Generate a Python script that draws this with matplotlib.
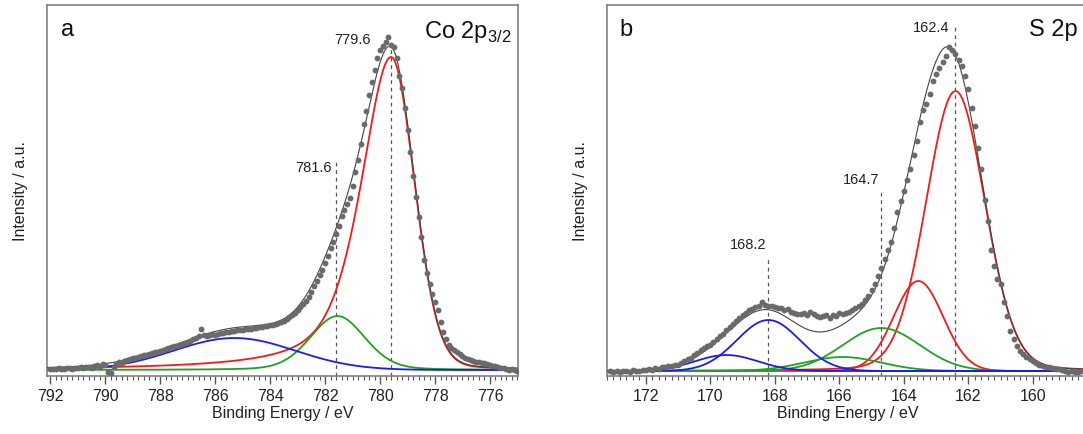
import numpy as np
import matplotlib
matplotlib.use("Agg")
import matplotlib.pyplot as plt
from matplotlib.ticker import MultipleLocator

plt.rcParams['font.family'] = ['Liberation Sans', 'DejaVu Sans']
plt.rcParams['mathtext.fontset'] = 'custom'
plt.rcParams['mathtext.rm'] = 'Liberation Sans'

# ---- panel a: Co 2p3/2, measured points every 0.1 eV (792.0 -> 775.0)
co_energy = np.round(np.arange(792.0, 774.95, -0.1), 1)
co_counts = [
    7, 7, 7, 8, 7, 7, 8, 8, 7, 8,
    8, 9, 8, 9, 9, 8, 10, 11, 9, 12,
    11, 4, 3, 9, 12, 14, 13, 15, 16, 17,
    18, 18, 19, 20, 21, 21, 22, 23, 24, 24,
    25, 26, 27, 28, 29, 30, 30, 31, 32, 33,
    34, 35, 37, 38, 40, 47, 41, 40, 41, 42,
    41, 42, 43, 43, 44, 44, 45, 45, 46, 46,
    46, 47, 47, 47, 48, 48, 49, 49, 50, 50,
    51, 51, 52, 53, 54, 55, 57, 59, 61, 63,
    66, 69, 72, 75, 79, 84, 90, 95, 101, 106,
    113, 120, 128, 134, 142, 150, 160, 166, 172, 178,
    190, 204, 216, 232, 252, 265, 281, 294, 306, 318,
    326, 330, 334, 339, 331, 329, 318, 300, 288, 268,
    246, 224, 200, 179, 159, 139, 116, 103, 92, 82,
    74, 66, 54, 44, 37, 31, 28, 26, 24, 22,
    20, 18, 17, 16, 15, 14, 14, 13, 13, 12,
    11, 10, 10, 9, 8, 8, 7, 6, 7, 6,
    5,
]
co_base = 6
# fitted components: red, green, blue
co_center = [779.6, 781.55, 785.3]
co_height = [313, 54, 32]
co_fwhm_hi = [2.6, 2.35, 5.2]   # high binding energy side
co_eta_hi = [0.6, 0.2, 0.0]
co_fwhm_lo = [2.0, 2.35, 5.2]   # low binding energy side
co_eta_lo = [0.1, 0.2, 0.0]
co_marks = [781.6, 779.6]

# ---- panel b: S 2p, measured points every 0.1 eV (173.1 -> 158.4)
s_energy = np.round(np.arange(173.1, 158.35, -0.1), 1)
s_counts = [
    5, 4, 5, 4, 5, 5, 4, 6, 5, 5,
    6, 6, 7, 6, 8, 7, 9, 9, 10, 10,
    11, 11, 13, 15, 17, 18, 21, 23, 26, 28,
    30, 31, 34, 37, 40, 42, 46, 49, 52, 55,
    58, 61, 63, 66, 67, 69, 70, 74, 71, 70,
    70, 69, 68, 68, 66, 67, 64, 63, 62, 62,
    63, 61, 64, 62, 60, 59, 60, 61, 58, 61,
    60, 63, 62, 63, 64, 66, 68, 70, 72, 76,
    80, 86, 92, 100, 108, 117, 126, 134, 148, 164,
    175, 185, 196, 207, 221, 235, 254, 266, 272, 282,
    295, 302, 308, 314, 320, 329, 326, 322, 316, 310,
    300, 287, 268, 250, 228, 207, 176, 155, 126, 110,
    97, 92, 74, 60, 45, 37, 30, 25, 22, 19,
    17, 15, 13, 11, 10, 9, 9, 8, 7, 7,
    6, 5, 4, 5, 4, 4, 5, 4,
]
s_base = 5
# fitted components: red x2, green x2, blue x2
s_center = [162.4, 163.55, 164.7, 165.9, 168.2, 169.5]
s_height = [280, 90, 43, 14, 51, 16]
s_fwhm = [2.15, 1.8, 2.8, 2.8, 2.3, 2.3]
s_eta = [0.1, 0.0, 0.0, 0.0, 0.0, 0.0]
s_marks = [168.2, 164.7, 162.4]

colors_a = ['#ee1c1c', '#22a022', '#1c1cf0']
colors_b = ['#ee1c1c', '#ee1c1c', '#22a022', '#22a022', '#1c1cf0', '#1c1cf0']


def peak(x, c, h, f_hi, eta_hi, f_lo, eta_lo):
    # pseudo-Voigt, different shape on each side of the centre
    d = x - c
    f = np.where(d > 0, f_hi, f_lo)
    eta = np.where(d > 0, eta_hi, eta_lo)
    g = np.exp(-4 * np.log(2) * d ** 2 / f ** 2)
    l = 1 / (1 + 4 * d ** 2 / f ** 2)
    return h * (eta * l + (1 - eta) * g)


def style_axes(ax, xlim):
    ax.set_xlim(*xlim)
    ax.set_ylim(0, 371)
    ax.set_yticks([])
    ax.xaxis.set_major_locator(MultipleLocator(2))
    ax.xaxis.set_minor_locator(MultipleLocator(0.2))
    ax.tick_params(axis='x', which='major', direction='out', length=6, width=1,
                   color='#555555', labelsize=11.5, labelcolor='#222222', pad=3)
    ax.tick_params(axis='x', which='minor', direction='out', length=3, width=0.8,
                   color='#555555')
    for s in ax.spines.values():
        s.set_color('#808080')
        s.set_linewidth(1.2)
    ax.set_xlabel("Binding Energy / eV", fontsize=11.5, color='#222222', labelpad=2)
    ax.set_ylabel("Intensity / a.u.", fontsize=11.5, color='#222222', labelpad=14)


fig = plt.figure(figsize=(10.83, 4.34), dpi=100)
ax1 = fig.add_axes([0.0434, 0.1336, 0.4349, 0.8548])
ax2 = fig.add_axes([0.5605, 0.1336, 0.4445, 0.8548])

# panel a
xa = np.linspace(792.2, 774.9, 800)
total = np.full_like(xa, co_base, dtype=float)
for i in range(len(co_center)):
    comp = peak(xa, co_center[i], co_height[i], co_fwhm_hi[i], co_eta_hi[i],
                co_fwhm_lo[i], co_eta_lo[i])
    total += comp
    ax1.plot(xa, comp + co_base, color=colors_a[i], lw=1.3, zorder=2)
ax1.plot(xa, total, color='#444444', lw=0.8, zorder=3)
ax1.plot(co_energy, co_counts, 'o', color='#6a6a6a', ms=4.2, mew=0, zorder=4)
ax1.vlines(co_marks[0], 0, 214, colors='#555555', linestyles=(0, (3, 3)), lw=0.9, zorder=1)
ax1.vlines(co_marks[1], 0, 330, colors='#555555', linestyles=(0, (3, 3)), lw=0.9, zorder=1)
ax1.text(co_marks[0] + 0.15, 208, "781.6", ha='right', va='center', fontsize=10.5, color='#222222')
ax1.text(co_marks[1] + 0.75, 336, "779.6", ha='right', va='center', fontsize=10.5, color='#222222')
ax1.text(791.6, 346, "a", ha='left', va='center', fontsize=17, color='#111111')
ax1.text(775.2, 344, "Co 2p$_{3/2}$", ha='right', va='center', fontsize=17, color='#111111')
style_axes(ax1, (792.12, 774.98))

# panel b
xb = np.linspace(173.3, 158.2, 800)
total = np.full_like(xb, s_base, dtype=float)
for i in range(len(s_center)):
    comp = peak(xb, s_center[i], s_height[i], s_fwhm[i], s_eta[i], s_fwhm[i], s_eta[i])
    total += comp
    ax2.plot(xb, comp + s_base, color=colors_b[i], lw=1.3, zorder=2)
ax2.plot(xb, total, color='#444444', lw=0.8, zorder=3)
ax2.plot(s_energy, s_counts, 'o', color='#6a6a6a', ms=4.2, mew=0, zorder=4)
ax2.vlines(s_marks[0], 0, 118, colors='#555555', linestyles=(0, (3, 3)), lw=0.9, zorder=1)
ax2.vlines(s_marks[1], 0, 184, colors='#555555', linestyles=(0, (3, 3)), lw=0.9, zorder=1)
ax2.vlines(s_marks[2], 0, 352, colors='#555555', linestyles=(0, (3, 3)), lw=0.9, zorder=1)
ax2.text(s_marks[0] + 0.05, 131, "168.2", ha='right', va='center', fontsize=10.5, color='#222222')
ax2.text(s_marks[1] + 0.05, 196, "164.7", ha='right', va='center', fontsize=10.5, color='#222222')
ax2.text(s_marks[2] + 0.2, 348, "162.4", ha='right', va='center', fontsize=10.5, color='#222222')
ax2.text(172.8, 346, "b", ha='left', va='center', fontsize=17, color='#111111')
ax2.text(158.6, 346, "S 2p", ha='right', va='center', fontsize=17, color='#111111')
style_axes(ax2, (173.2, 158.28))

plt.savefig("out.png", dpi=100)
